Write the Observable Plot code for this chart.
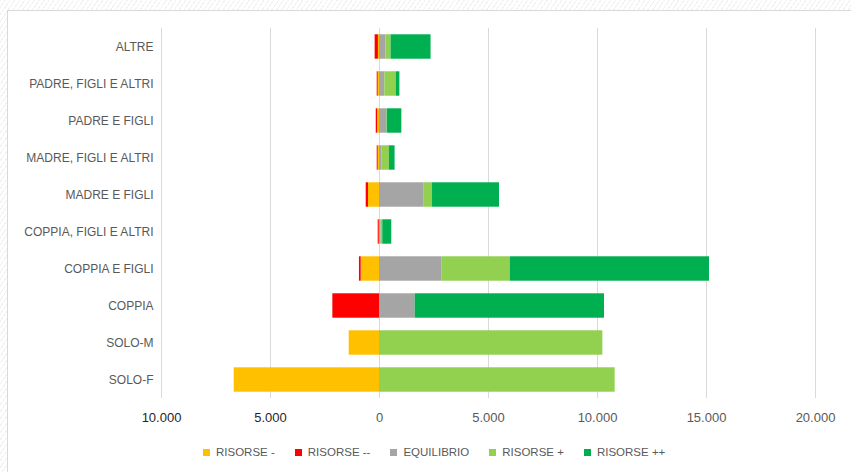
<!DOCTYPE html>
<html>
<head>
<meta charset="utf-8">
<script src="https://cdn.jsdelivr.net/npm/d3@7"></script>
<script src="https://cdn.jsdelivr.net/npm/@observablehq/plot@0.6"></script>
<style>
  html, body { margin: 0; padding: 0; }
  body {
    width: 851px; height: 472px; overflow: hidden; position: relative;
    background: repeating-linear-gradient(-55deg, #ffffff 0 3px, #f1f1f1 3px 4px);
    font-family: "Liberation Sans", Arial, sans-serif;
  }
  #panel {
    position: absolute; left: 7px; top: 10px; width: 860px; height: 480px;
    background: #ffffff; border: 1px solid #d9d9d9; box-sizing: border-box;
  }
  #chart { position: absolute; left: 0; top: 0; }
  #chart svg { display: block; background: transparent; }
  .legend {
    display: flex; align-items: center; gap: 20px;
    margin-left: 203px; height: 24px;
    font-size: 11.5px; color: #595959;
  }
  .legend .item { display: flex; align-items: center; gap: 6px; white-space: nowrap; }
  .legend .swatch { width: 7px; height: 7px; }
</style>
</head>
<body>
<div id="panel"></div>
<div id="chart"></div>
<script>
// Household types, top to bottom
const categories = [
  "ALTRE",
  "PADRE, FIGLI E ALTRI",
  "PADRE E FIGLI",
  "MADRE, FIGLI E ALTRI",
  "MADRE E FIGLI",
  "COPPIA, FIGLI E ALTRI",
  "COPPIA E FIGLI",
  "COPPIA",
  "SOLO-M",
  "SOLO-F"
];

// Resource classes (stacking order) and their colours
const series = ["RISORSE -", "RISORSE --", "EQUILIBRIO", "RISORSE +", "RISORSE ++"];
const seriesColors = ["#FFC000", "#FF0000", "#A5A5A5", "#92D050", "#00B050"];

// Values per household type (deficits are negative)
const risorseMeno     = [-50, -60, -90, -60, -505, -10, -840, 0, -1390, -6665];
const risorseMenoMeno = [-150, -45, -60, -45, -105, -50, -80, -2140, 0, 0];
const equilibrio      = [300, 245, 335, 120, 2050, 75, 2875, 1636, 0, 0];
const risorsePiu      = [230, 520, 20, 335, 382, 75, 3120, 0, 10245, 10810];
const risorsePiuPiu   = [1835, 170, 670, 260, 3073, 413, 9142, 8685, 0, 0];

const xTicks = [-10000, -5000, 0, 5000, 10000, 15000, 20000];

const seriesValues = [risorseMeno, risorseMenoMeno, equilibrio, risorsePiu, risorsePiuPiu];
const rows = series.flatMap((s, j) =>
  categories.map((c, i) => ({category: c, series: s, value: seriesValues[j][i]}))
);

// Italian thousands separator, magnitudes only
const fmt = d => d3.format(",")(Math.abs(d)).replace(/,/g, ".");

const chart = Plot.plot({
  width: 851,
  height: 440,
  marginLeft: 161,
  marginRight: 36,
  marginTop: 28,
  marginBottom: 42,
  style: {fontFamily: "'Liberation Sans', Arial, sans-serif", fontSize: "12px", color: "#595959", background: "transparent"},
  x: {domain: [-10000, 20000], label: null},
  y: {domain: categories, paddingInner: 0.34, paddingOuter: 0.17, round: false, label: null},
  color: {domain: series, range: seriesColors},
  marks: [
    Plot.gridX(xTicks, {stroke: "#d9d9d9", strokeOpacity: 1, strokeWidth: 1}),
    Plot.barX(rows, {x: "value", y: "category", fill: "series"}),
    Plot.axisX({ticks: xTicks.filter(d => d < 0), tickFormat: fmt, tickSize: 0, tickPadding: 14, fontSize: 13, fill: "#262626", label: null}),
    Plot.axisX({ticks: xTicks.filter(d => d >= 0), tickFormat: fmt, tickSize: 0, tickPadding: 14, fontSize: 13, fill: "#595959", label: null}),
    Plot.axisY({tickSize: 0, tickPadding: 8, fontSize: 12, fill: "#595959", label: null})
  ]
});

const host = document.getElementById("chart");
host.appendChild(chart);

// Legend below the plot
const legend = document.createElement("div");
legend.className = "legend";
series.forEach((s, i) => {
  const item = document.createElement("div");
  item.className = "item";
  const sw = document.createElement("span");
  sw.className = "swatch";
  sw.style.background = seriesColors[i];
  const label = document.createElement("span");
  label.textContent = s;
  item.appendChild(sw);
  item.appendChild(label);
  legend.appendChild(item);
});
host.appendChild(legend);
</script>
</body>
</html>
